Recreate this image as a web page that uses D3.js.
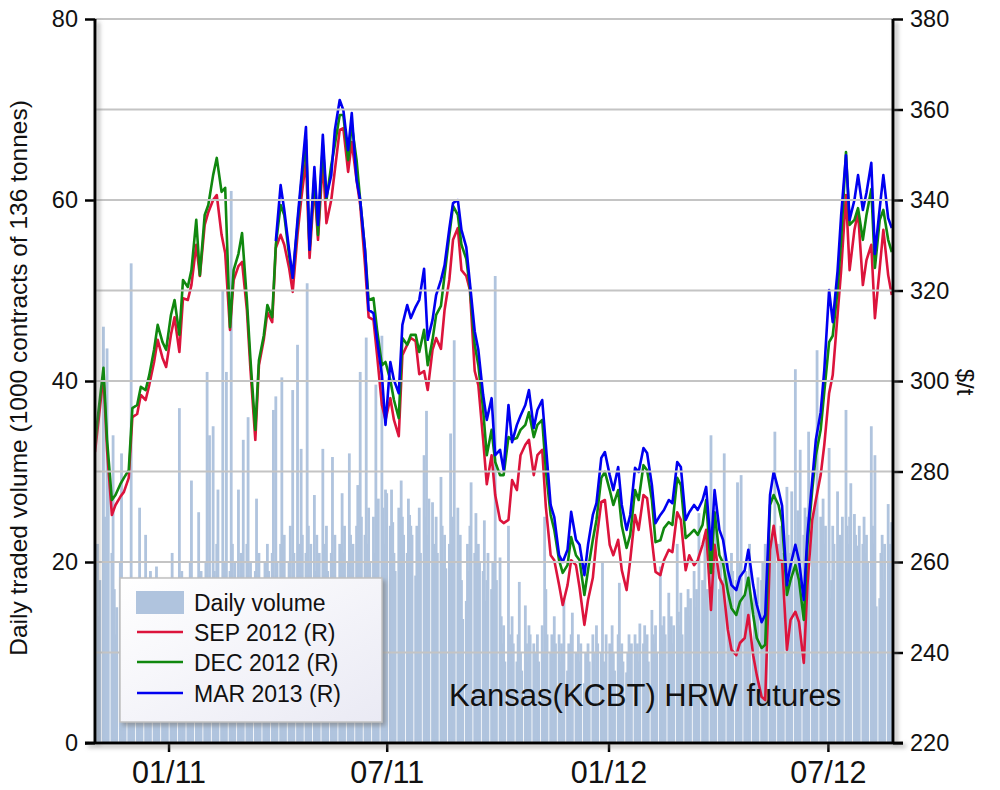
<!DOCTYPE html>
<html><head><meta charset="utf-8">
<script src="https://cdn.jsdelivr.net/npm/d3@7"></script>
<style>
body{margin:0;background:#fff}
text{font-family:"Liberation Sans",Arial,sans-serif;fill:#111}
</style>
</head><body>
<svg id="chart" width="1000" height="790"></svg>
<script>
// ---------- DATA ----------
const firstMonday = "2010-11-01";          // first trading week shown
const domainEnd = "2012-08-24";
const xTickDates = ["2011-01-01","2011-07-01","2012-01-01","2012-07-01"];
const xTickLabels = ["01/11","07/11","01/12","07/12"];
const volTicks = [0,20,40,60,80];
const priceTicks = [220,240,260,280,300,320,340,360,380];
const seriesNames = ["SEP 2012 (R)","DEC 2012 (R)","MAR 2013 (R)"];

// daily volume, 1000 contracts, Mon..Fri per week
const volume = [
16,20,22,14,18, 46,25,19,43.6,30, 21,34,17,12,15, 20,32,14,18,11, 13,17,53,16,12,
15,10,26,14,18, 23,13,16,11,19, 12,16,19.5,14,10, 13,11,17,15,12, 14,21,12,16,18,
37,15,19,13,17, 16,14,20,29,15, 18,13,25.5,16,19, 17,20,41,15,34, 35,19,16,22,28,
18,50,20,17,41, 19,61,22,16,20, 28,17,21,19,33.5, 22,36,18,20,16, 19,27,15,21,18,
17,20,16,22,19, 21,36.8,18,38.3,20, 22,40.4,19,23,18, 20,24,18,39,21, 44,22,19,32.5,23,
21,50.8,24,20,22, 27.4,19,23,18,21, 32.5,20,22,24,19, 21,31.6,20,23,18, 22,19,27.6,21,24,
20,32,23,19,22, 24,28.5,21,41,25, 23,44.8,22,26,20, 25,21,39.6,24,27, 45,26,22,28,27.6,
24,28,24.4,21,19, 26,22,29,25,23, 21,27,25.2,24,23, 18.5,24,22,26,21, 31.8,25,36.7,23,27,
26.6,22,19.3,25,21, 29.4,24,20,23,19.3, 22,34.2,25,21,44.5, 26,20,23,18,13.7, 15.7,22,19,24,28.8,
21,25.4,17,22,20, 19,24.6,15.7,18,21, 17,20,16,51.6,18, 20.5,14,11,13,9, 24,12,10,14,11,
9,12,17.8,10,8, 15.2,11,9,13,12, 11,8,10,12,9, 13,10,25,17,12, 10,12,9,14,11,
12,9,11,10,16, 8,11,9,12,14.4, 10,7,12,9,11, 6.6,10,8,11,9, 12,10,8,13,11,
10,19.9,9,7.3,12, 11,9,13,10,8, 12,17.7,10,11,9, 7.8,10,12,9,11, 12,10,11,9,13.2,
11,13,10,12,9, 14.7,12,11,13,10, 19.5,13,11,14,12, 16.6,12.8,14,11,13, 22,14.5,13,16.6,12,
15,13,17,14,16, 19,15,17,14,25.4, 18,16,23,15,17, 34,16,18,19,26, 17,20,18,16,32,
20,18,17,21,19, 18,28.8,17,20,29.6, 16,19,18,15,22, 11,17,14,16,18.3, 18,20,17,22,19,
21,18,23,20,34.4, 22,19,24,21,20, 28.3,23,21,20,27.8, 41.3,22,25.7,24,32.4, 23,26,21,25,34.4,
24,22,26,25,43.4, 25,23,27,22,24, 32.6,16,18,24,22, 27.8,19,23,21,25, 36.8,24,22,25,28.7,
25.3,23,21.8,20,24, 22,25,21,23,20, 35,24,22,31.8,15.1, 16,21,23,18,22, 26.4,20,22,24.4,19
];

// futures prices $/t, sampled Monday and Thursday of each week
const sep2012 = [
284.3,291.4,301.3,284.8,270.4,272.6,274.4,275.5,278.6,292.0,292.7,296.9,295.8,299.1,304.2,309.1,305.1,303.1,310.2,314.1,
306.4,318.3,317.9,321.2,330.1,323.2,334.5,337.3,340.0,341.1,332.3,328.3,311.3,322.3,325.4,326.3,315.7,302.4,287.0,303.5,
309.1,315.2,313.0,329.4,332.3,330.1,325.0,319.7,332.3,340.0,348.8,327.2,343.3,331.2,348.8,334.9,340.0,346.6,355.5,355.9,
346.2,352.8,344.4,338.9,325.6,314.1,313.5,305.7,294.7,291.4,296.2,291.4,287.8,305.7,308.0,309.5,308.8,301.5,302.2,298.0,
306.9,309.5,307.1,315.7,322.5,331.2,333.8,324.5,323.2,320.1,302.2,299.1,287.0,277.2,283.6,274.8,269.3,268.6,269.3,278.1,
275.9,283.6,285.9,287.0,279.2,283.6,284.8,272.2,261.5,260.4,254.9,250.5,254.9,260.4,259.3,254.3,246.1,251.6,256.5,264.9,
273.3,273.7,263.8,261.5,264.9,258.2,253.8,260.4,270.4,267.1,274.8,274.1,264.9,257.8,257.1,260.4,262.7,262.2,271.0,269.3,
258.2,261.5,259.3,260.4,263.8,267.1,249.4,263.8,256.5,254.9,245.0,240.6,239.4,242.1,243.2,248.3,239.4,235.0,230.2,229.5,
262.7,268.0,260.4,260.2,240.6,247.2,249.0,246.7,237.7,254.9,269.3,273.7,279.2,285.9,297.3,301.3,314.6,324.5,341.1,324.5,
333.4,337.3,321.2,326.7,330.1,313.9,325.0,333.4,323.4,319.0
];
const dec2012 = [
286.3,293.6,302.9,287.0,273.7,274.8,277.2,278.6,280.3,294.0,294.7,298.7,298.0,301.3,306.9,312.4,308.6,306.9,314.6,317.9,
310.2,322.3,320.8,324.5,335.6,323.4,336.7,338.9,345.5,349.3,341.8,342.7,311.9,324.5,328.1,332.7,317.9,304.6,289.2,304.6,
310.0,316.8,314.1,330.1,338.9,336.7,327.8,322.8,334.5,343.3,353.3,329.0,345.5,332.3,352.2,340.0,347.7,352.2,358.8,358.8,
348.8,356.6,348.8,340.0,329.0,317.9,318.3,311.3,303.5,304.2,300.2,295.8,291.8,309.5,308.0,310.2,310.2,306.4,311.3,303.5,
309.1,314.6,316.6,323.4,332.3,338.7,336.7,330.1,327.0,320.6,308.0,303.5,293.6,283.6,289.2,282.1,279.2,279.2,287.6,287.0,
287.4,289.2,290.3,293.1,287.6,290.3,291.4,280.3,270.4,267.1,260.4,257.6,259.3,265.5,261.5,260.4,252.7,258.2,264.9,269.3,
278.6,279.9,275.9,272.6,275.9,268.0,263.1,266.0,275.9,273.7,281.4,280.3,273.7,264.4,264.8,267.5,268.8,268.2,278.6,277.0,
265.3,266.0,267.1,266.0,268.2,273.7,257.6,271.0,261.5,259.8,253.4,249.8,248.3,251.2,252.7,256.5,248.3,243.2,241.0,241.7,
272.6,274.8,272.6,268.8,252.7,256.0,259.3,256.0,247.2,263.8,275.9,283.6,289.2,297.6,308.6,310.0,320.1,331.2,350.6,334.5,
335.6,338.2,331.2,336.7,342.4,325.0,335.6,337.8,331.2,328.5
];
const mar2013 = [
null,null,null,null,null,null,null,null,null,null,null,null,null,null,null,null,null,null,null,null,
null,null,null,null,null,null,null,null,null,null,null,null,null,null,null,null,null,null,null,null,
null,null,null,330.9,343.3,337.8,329.0,322.8,335.6,344.4,356.1,329.0,347.3,334.5,354.4,340.7,345.5,355.5,362.1,359.9,
351.0,359.2,344.4,340.0,329.0,315.7,315.0,309.1,301.3,290.3,304.2,300.2,297.3,312.4,316.8,313.9,316.4,317.9,324.8,309.1,
313.5,319.0,322.3,325.6,333.8,339.3,340.0,333.4,329.6,321.7,311.0,306.9,296.9,291.4,296.2,283.6,284.8,280.3,294.7,286.5,
290.3,292.3,294.7,298.0,289.6,293.6,295.8,285.9,272.6,269.9,261.5,260.0,262.7,271.1,264.9,263.8,257.1,263.8,270.4,273.0,
283.0,284.3,279.2,275.9,281.0,272.6,267.1,270.4,280.8,279.9,285.2,284.1,277.0,268.6,270.4,271.5,273.7,273.0,282.1,281.0,
269.3,271.0,272.6,271.5,273.7,276.6,262.7,275.9,267.1,264.9,258.2,254.9,253.8,256.7,258.2,262.7,254.9,250.5,246.7,248.3,
274.8,279.9,275.9,272.4,254.9,259.3,263.8,260.4,251.6,266.0,278.1,287.0,293.1,302.4,320.1,313.0,324.3,336.7,349.9,335.6,
340.0,345.5,337.8,341.6,348.2,328.1,338.2,345.5,336.0,333.8
];

// ---------- LAYOUT ----------
const L = 95, R = 893, T = 19, B = 743;
const colors = {bar:"#b0c4de", sep:"#dc143c", dec:"#10880f", mar:"#0000f0", grid:"#c4c4c4"};

const parse = d3.utcParse("%Y-%m-%d");
const d0 = parse(firstMonday);
const x = d3.scaleUtc().domain([d0, parse(domainEnd)]).range([L, R]);
const yV = d3.scaleLinear().domain([0, 80]).range([B, T]);
const yP = d3.scaleLinear().domain([220, 380]).range([B, T]);

const barData = volume.map((v, i) => ({date: d3.utcDay.offset(d0, Math.floor(i/5)*7 + i%5), v}));
const lineDate = i => d3.utcDay.offset(d0, Math.floor(i/2)*7 + (i%2)*3);

const svg = d3.select("#chart");
const defs = svg.append("defs");
const sh = defs.append("filter").attr("id","shadow").attr("x","-50%").attr("y","-50%").attr("width","200%").attr("height","200%");
sh.append("feDropShadow").attr("dx",3).attr("dy",3).attr("stdDeviation",2.2).attr("flood-color","#777").attr("flood-opacity",0.6);
const lg = defs.append("linearGradient").attr("id","lgfill").attr("x1",0).attr("y1",0).attr("x2",1).attr("y2",1);
lg.append("stop").attr("offset","0%").attr("stop-color","#ffffff");
lg.append("stop").attr("offset","100%").attr("stop-color","#eaeaf4");
defs.append("clipPath").attr("id","plotclip").append("rect").attr("x",L).attr("y",T-5).attr("width",R-L).attr("height",B-T+5);

const plot = svg.append("g").attr("clip-path","url(#plotclip)");

// bars
const bw = 2.8;
plot.append("g").selectAll("rect").data(barData).join("rect")
  .attr("x", d => x(d.date) - bw/2)
  .attr("y", d => yV(d.v))
  .attr("width", bw)
  .attr("height", d => B - yV(d.v))
  .attr("fill", colors.bar);

// gridlines
svg.append("g").selectAll("line").data(d3.range(10, 81, 10)).join("line")
  .attr("x1", L).attr("x2", R)
  .attr("y1", d => yV(d)).attr("y2", d => yV(d))
  .attr("stroke", colors.grid).attr("stroke-width", 2);

// lines
const mk = arr => arr.map((v, i) => ({date: lineDate(i), v}));
const line = d3.line().defined(d => d.v != null).x(d => x(d.date)).y(d => yP(d.v));
[[sep2012, colors.sep],[dec2012, colors.dec],[mar2013, colors.mar]].forEach(([arr, c]) => {
  plot.append("path").datum(mk(arr)).attr("d", line)
    .attr("fill","none").attr("stroke", c).attr("stroke-width", 2.6).attr("stroke-linejoin","round");
});

// axes
const axisG = svg.append("g");
const fontTick = "23.5px";
const left = axisG.append("g").attr("transform",`translate(${L},0)`)
  .call(d3.axisLeft(yV).tickValues(volTicks).tickSize(10).tickSizeOuter(0).tickPadding(7));
const right = axisG.append("g").attr("transform",`translate(${R},0)`)
  .call(d3.axisRight(yP).tickValues(priceTicks).tickSize(10).tickSizeOuter(0).tickPadding(7));
const bottom = axisG.append("g").attr("transform",`translate(0,${B})`)
  .call(d3.axisBottom(x).tickValues(xTickDates.map(parse)).tickFormat((d,i)=>xTickLabels[i]).tickSize(9).tickSizeOuter(0).tickPadding(9));
[left,right,bottom].forEach(g => {
  g.select(".domain").remove();
  g.selectAll(".tick line").attr("stroke","#000").attr("stroke-width",2.5);
  g.selectAll(".tick text").style("font-size",fontTick).attr("fill","#111");
});
bottom.selectAll(".tick text").style("font-size","30.5px");
// axis lines with shadow
const ax = axisG.append("g").attr("filter","url(#shadow)");
ax.append("line").attr("x1",L).attr("x2",L).attr("y1",T).attr("y2",B+1).attr("stroke","#000").attr("stroke-width",3);
ax.append("line").attr("x1",R).attr("x2",R).attr("y1",T).attr("y2",B+1).attr("stroke","#000").attr("stroke-width",3);
ax.append("line").attr("x1",L-10).attr("x2",R+10).attr("y1",B).attr("y2",B).attr("stroke","#000").attr("stroke-width",3);

// axis titles
svg.append("text").attr("transform","translate(27,378) rotate(-90)").attr("text-anchor","middle")
  .style("font-size","24.5px").text("Daily traded volume (1000 contracts of 136 tonnes)");
svg.append("text").attr("transform","translate(957,382) rotate(90)").attr("text-anchor","middle")
  .style("font-size","24px").text("$/t");

// annotation
svg.append("text").attr("x",449).attr("y",706).style("font-size","31px").text("Kansas(KCBT) HRW futures");

// legend
const leg = svg.append("g");
leg.append("rect").attr("x",120).attr("y",578).attr("width",262).attr("height",144)
  .attr("fill","url(#lgfill)").attr("stroke","#c0c0c0").attr("stroke-width",1.5).attr("filter","url(#shadow)");
leg.append("rect").attr("x",136).attr("y",591).attr("width",48).attr("height",23).attr("fill",colors.bar);
const legRows = [["Daily volume",null,602],[seriesNames[0],colors.sep,632],[seriesNames[1],colors.dec,662],[seriesNames[2],colors.mar,693]];
legRows.forEach(([t,c,cy]) => {
  if (c) leg.append("line").attr("x1",137).attr("x2",183).attr("y1",cy).attr("y2",cy).attr("stroke",c).attr("stroke-width",2.6);
  leg.append("text").attr("x",194).attr("y",cy+8.5).style("font-size","23px").text(t);
});
</script>
</body></html>
